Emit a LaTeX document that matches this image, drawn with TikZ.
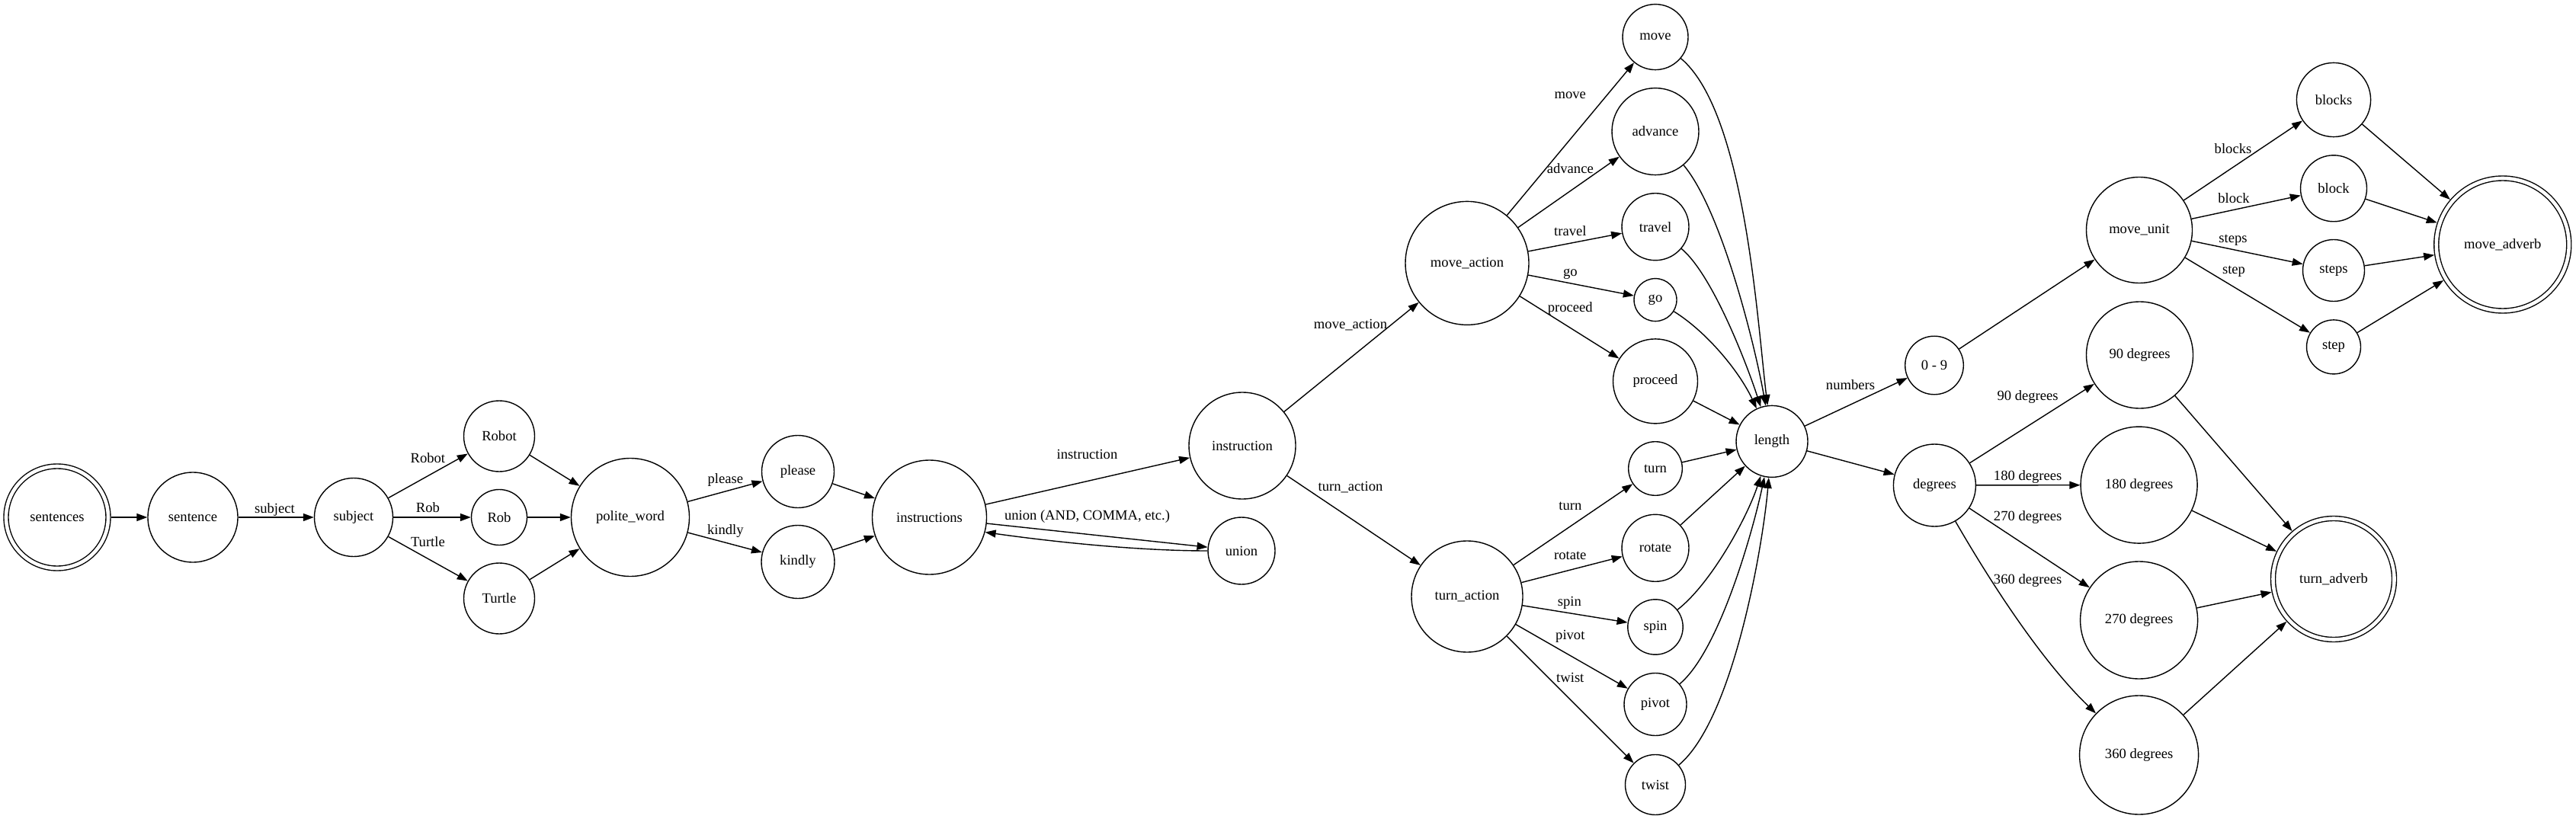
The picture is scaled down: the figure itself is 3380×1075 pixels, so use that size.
\documentclass[tikz,border=0pt]{standalone}
\usepackage{fontspec}
\setmainfont{Liberation Serif}
\usetikzlibrary{arrows.meta}
\begin{document}
\begin{tikzpicture}[x=0.5pt,y=-0.5pt,
  st/.style={circle,draw,line width=0.7pt,inner sep=0pt,font=\fontsize{9.3pt}{11pt}\selectfont},
  fin/.style={st,double,double distance=2.3pt,outer sep=1.85pt},
  arr/.style={line width=0.7pt,-{Triangle[length=7pt,width=5pt]}},
  lbl/.style={font=\fontsize{9.3pt}{11pt}\selectfont,inner sep=0pt,text height=1.5ex,text depth=.3ex}]
\useasboundingbox (0,0) rectangle (3380,1075);
% nodes
\node[fin,minimum size=67pt] (sentences) at (75,679) {sentences};
\node[st,minimum size=59pt] (sentence) at (253,679) {sentence};
\node[st,minimum size=51.5pt] (subject) at (464,679) {subject};
\node[st,minimum size=46.5pt] (Robot) at (655,572.5) {Robot};
\node[st,minimum size=36.5pt] (Rob) at (655,679) {Rob};
\node[st,minimum size=46.5pt] (Turtle) at (655,785.5) {Turtle};
\node[st,minimum size=77.5pt] (polite) at (827,679) {polite\_word};
\node[st,minimum size=47.5pt] (please) at (1047,619) {please};
\node[st,minimum size=48pt] (kindly) at (1047,737.5) {kindly};
\node[st,minimum size=75pt] (instructions) at (1219.5,679) {instructions};
\node[st,minimum size=70pt] (instruction) at (1630,585) {instruction};
\node[st,minimum size=44pt] (union) at (1629,723) {union};
\node[st,minimum size=81pt] (moveaction) at (1925,345.4) {move\_action};
\node[st,minimum size=73pt] (turnaction) at (1925,783) {turn\_action};
\node[st,minimum size=43pt] (move) at (2172,48.6) {move};
\node[st,minimum size=57pt] (advance) at (2172,172.6) {advance};
\node[st,minimum size=44pt] (travel) at (2172,297.7) {travel};
\node[st,minimum size=28pt] (go) at (2172,393.6) {go};
\node[st,minimum size=55.5pt] (proceed) at (2172,500.4) {proceed};
\node[st,minimum size=35.3pt] (turn) at (2172,615) {turn};
\node[st,minimum size=44pt] (rotate) at (2172,719.3) {rotate};
\node[st,minimum size=36.2pt] (spin) at (2172,823) {spin};
\node[st,minimum size=41pt] (pivot) at (2172,924.5) {pivot};
\node[st,minimum size=39.5pt] (twist) at (2172,1030) {twist};
\node[st,minimum size=47pt] (length) at (2325,579.4) {length};
\node[st,minimum size=38.3pt] (zeronine) at (2538,479.5) {0 - 9};
\node[st,minimum size=54pt] (degrees) at (2538.4,637) {degrees};
\node[st,minimum size=69.5pt] (moveunit) at (2807,302) {move\_unit};
\node[st,minimum size=70pt] (dnine) at (2807.5,466) {90 degrees};
\node[st,minimum size=76.5pt] (doneeighty) at (2806.6,636.6) {180 degrees};
\node[st,minimum size=77pt] (dtwoseventy) at (2806.6,814) {270 degrees};
\node[st,minimum size=78pt] (dthreesixty) at (2806.6,991) {360 degrees};
\node[st,minimum size=48.6pt] (blocks) at (3062,131) {blocks};
\node[st,minimum size=43.5pt] (block) at (3062,247.3) {block};
\node[st,minimum size=40.5pt] (steps) at (3062,355) {steps};
\node[st,minimum size=35.5pt] (step) at (3062,455.4) {step};
\node[fin,minimum size=87pt] (moveadverb) at (3283.75,321) {move\_adverb};
\node[fin,minimum size=79.5pt] (turnadverb) at (3062,760) {turn\_adverb};
% edges
\draw[arr] (sentences) -- (sentence);
\draw[arr] (sentence) -- (subject) node[lbl] at (360.5,668) {subject};
\draw[arr] (subject) -- (Robot) node[lbl] at (561.4,602) {Robot};
\draw[arr] (subject) -- (Rob) node[lbl] at (561.4,667) {Rob};
\draw[arr] (subject) -- (Turtle) node[lbl] at (561.4,711.7) {Turtle};
\draw[arr] (Robot) -- (polite);
\draw[arr] (Rob) -- (polite);
\draw[arr] (Turtle) -- (polite);
\draw[arr] (polite) -- (please) node[lbl] at (951.8,629.3) {please};
\draw[arr] (polite) -- (kindly) node[lbl] at (951.8,696) {kindly};
\draw[arr] (please) -- (instructions);
\draw[arr] (kindly) -- (instructions);
\draw[arr] (instructions) -- (instruction) node[lbl] at (1426.5,597.3) {instruction};
\draw[arr] (instructions) -- (union) node[lbl] at (1426.5,677.3) {union (AND, COMMA, etc.)};
\draw[arr] (union.180) to[out=180,in=-8,looseness=0.8] (instructions.-15);
\draw[arr] (instruction) -- (moveaction) node[lbl] at (1772,426) {move\_action};
\draw[arr] (instruction) -- (turnaction) node[lbl] at (1772,638.6) {turn\_action};
\draw[arr] (moveaction) -- (move) node[lbl] at (2060.3,124.4) {move};
\draw[arr] (moveaction) -- (advance) node[lbl] at (2060.3,222) {advance};
\draw[arr] (moveaction) -- (travel) node[lbl] at (2060.3,304.2) {travel};
\draw[arr] (moveaction) -- (go) node[lbl] at (2060.3,357) {go};
\draw[arr] (moveaction) -- (proceed) node[lbl] at (2060.3,403.7) {proceed};
\draw[arr] (turnaction) -- (turn) node[lbl] at (2060.3,664.3) {turn};
\draw[arr] (turnaction) -- (rotate) node[lbl] at (2060.3,729.2) {rotate};
\draw[arr] (turnaction) -- (spin) node[lbl] at (2059.4,789.7) {spin};
\draw[arr] (turnaction) -- (pivot) node[lbl] at (2060.3,833.7) {pivot};
\draw[arr] (turnaction) -- (twist) node[lbl] at (2060.3,889.5) {twist};
\draw[arr] (move) to[out=-40,in=97,looseness=0.6] (length);
\draw[arr] (advance) to[out=-50,in=100,looseness=0.6] (length);
\draw[arr] (travel) to[out=-40,in=108,looseness=0.6] (length);
\draw[arr] (go) to[out=-32,in=115,looseness=0.8] (length);
\draw[arr] (proceed) -- (length);
\draw[arr] (turn) -- (length);
\draw[arr] (rotate) -- (length);
\draw[arr] (spin) to[out=38,in=-108,looseness=0.7] (length);
\draw[arr] (pivot) to[out=40,in=-102,looseness=0.6] (length);
\draw[arr] (twist) to[out=40,in=-95,looseness=0.6] (length);
\draw[arr] (length) -- (zeronine) node[lbl] at (2428,506) {numbers};
\draw[arr] (length) -- (degrees);
\draw[arr] (zeronine) -- (moveunit);
\draw[arr] (moveunit) -- (blocks) node[lbl] at (2930,195.7) {blocks};
\draw[arr] (moveunit) -- (block) node[lbl] at (2931,260.7) {block};
\draw[arr] (moveunit) -- (steps) node[lbl] at (2930,313.2) {steps};
\draw[arr] (moveunit) -- (step) node[lbl] at (2931,353.6) {step};
\draw[arr] (blocks) -- (moveadverb);
\draw[arr] (block) -- (moveadverb);
\draw[arr] (steps) -- (moveadverb);
\draw[arr] (step) -- (moveadverb);
\draw[arr] (degrees) -- (dnine) node[lbl] at (2660.6,520) {90 degrees};
\draw[arr] (degrees) -- (doneeighty) node[lbl] at (2660.6,624.7) {180 degrees};
\draw[arr] (degrees) -- (dtwoseventy) node[lbl] at (2660.6,677.7) {270 degrees};
\draw[arr] (degrees) to[out=-60,in=136,looseness=0.8] (dthreesixty) node[lbl] at (2660.6,760.7) {360 degrees};
\draw[arr] (dnine) -- (turnadverb);
\draw[arr] (doneeighty) -- (turnadverb);
\draw[arr] (dtwoseventy) -- (turnadverb);
\draw[arr] (dthreesixty) -- (turnadverb);
\end{tikzpicture}
\end{document}
